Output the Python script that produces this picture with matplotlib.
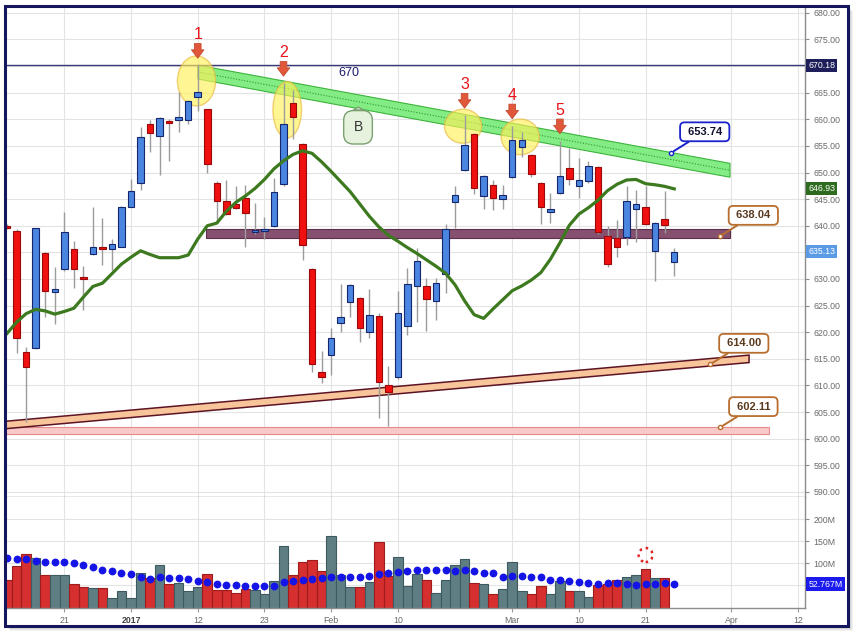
import numpy as np
import matplotlib
matplotlib.use("Agg")
import matplotlib.pyplot as plt
import matplotlib.transforms as mtransforms
from matplotlib.patches import Rectangle, Ellipse, Polygon, Circle

plt.rcParams['font.family'] = ['Liberation Sans', 'DejaVu Sans']

# trading day index (-1 = candle cut by the left edge)
days = np.arange(-1, 70)

opens = [640.0, 639.1, 616.3, 617.0, 634.9, 627.6, 631.8, 635.7, 630.4, 634.7,
         635.9, 635.6, 636.1, 643.6, 648.1, 659.1, 656.9, 659.7, 659.8, 659.9,
         664.2, 661.9, 648.1, 644.7, 644.1, 645.2, 638.9, 639.1, 640.0, 647.8,
         663.0, 655.3, 631.8, 612.6, 615.7, 621.7, 625.6, 626.4, 620.1, 623.1,
         610.1, 611.5, 621.1, 628.6, 628.7, 625.9, 630.9, 644.4, 650.5, 657.3,
         645.6, 647.6, 645.0, 649.1, 654.8, 653.3, 648.1, 642.6, 646.1, 650.8,
         647.5, 648.5, 651.1, 638.0, 637.7, 637.9, 643.2, 643.6, 635.3, 641.3,
         633.2]
highs = [640.4, 639.3, 617.2, 639.6, 635.0, 632.3, 642.5, 637.2, 632.5, 643.5,
         641.4, 637.5, 643.8, 648.8, 658.6, 659.9, 660.4, 660.1, 665.2, 663.6,
         670.18, 662.0, 648.5, 648.6, 647.4, 647.7, 644.2, 641.7, 648.9, 666.8,
         665.5, 655.5, 632.0, 616.5, 620.8, 629.1, 629.0, 626.6, 628.1, 623.7,
         613.7, 627.8, 632.0, 635.8, 630.1, 630.1, 640.4, 647.5, 660.8, 657.5,
         649.6, 648.6, 647.7, 658.8, 657.7, 653.5, 648.3, 646.1, 656.0, 654.6,
         652.7, 652.1, 651.3, 639.9, 641.1, 647.4, 646.7, 647.5, 640.8, 646.6,
         635.9]
lows = [639.4, 616.1, 603.2, 616.8, 622.8, 621.6, 631.5, 628.3, 624.2, 634.5,
        632.6, 631.6, 636.0, 643.5, 646.7, 653.9, 649.6, 652.1, 657.7, 659.1,
        661.5, 649.9, 640.8, 642.0, 643.2, 636.1, 638.5, 637.5, 639.8, 647.5,
        656.3, 633.6, 612.6, 610.4, 612.0, 620.1, 622.9, 618.2, 618.9, 603.8,
        602.3, 611.3, 619.5, 622.0, 620.3, 622.3, 627.3, 639.5, 650.3, 646.0,
        643.1, 643.0, 643.1, 649.0, 653.0, 649.2, 640.4, 640.5, 646.0, 647.7,
        645.2, 648.0, 638.5, 632.3, 634.2, 636.4, 637.0, 640.2, 629.7, 638.6,
        630.5]
closes = [639.6, 619.0, 613.5, 639.5, 627.8, 628.1, 638.9, 631.8, 630.0, 636.1,
          635.6, 636.5, 643.6, 646.6, 656.6, 657.5, 660.2, 659.3, 660.5, 663.4,
          665.1, 651.6, 644.7, 642.2, 643.4, 642.4, 639.1, 639.4, 646.4, 659.1,
          660.5, 636.4, 614.0, 611.5, 618.9, 622.9, 628.8, 620.8, 623.3, 610.6,
          608.7, 623.7, 629.1, 633.3, 626.2, 629.2, 639.4, 645.8, 655.2, 647.1,
          649.4, 645.3, 645.8, 656.1, 656.1, 649.7, 643.5, 643.1, 649.4, 648.8,
          648.6, 651.3, 638.8, 632.8, 636.1, 644.7, 644.1, 640.3, 640.6, 640.2,
          635.13]
ma20 = [619.8, 621.9, 623.5, 624.3, 624.0, 623.4, 623.9, 624.5, 626.6, 628.6,
        629.2, 631.0, 632.8, 634.1, 635.3, 634.6, 634.0, 634.0, 634.0, 634.5,
        637.5, 640.0, 640.5, 642.7, 644.4, 645.6, 647.0, 648.7, 650.7, 652.2,
        653.4, 654.1, 653.6, 652.0, 650.2, 648.3, 646.4, 644.1, 641.8, 639.8,
        638.2, 637.1, 635.9, 634.8, 633.6, 632.4, 631.1, 628.9, 625.9, 623.3,
        622.6, 624.4, 626.1, 627.8, 628.7, 629.8, 631.2, 633.7, 636.8, 640.1,
        642.2, 643.4, 644.8, 646.6, 647.8, 648.6, 648.7, 647.9, 647.7, 647.4,
        646.93]
# volume in millions
volume = [62.2, 94.6, 120.4, 112.7, 72.9, 72.9, 72.9, 52.5, 45.7, 43.4,
          43.4, 20.8, 36.7, 20.8, 78.7, 67.4, 96.2, 52.5, 54.8, 36.7,
          45.7, 75.1, 39.6, 39.6, 32.1, 41.2, 39.6, 29.9, 59.3, 138.5,
          72.9, 102.9, 107.5, 82.6, 161.8, 72.9, 45.7, 45.7, 57.0, 148.9,
          71.3, 114.9, 48.0, 75.1, 62.2, 32.1, 62.2, 96.2, 109.7, 54.8,
          52.5, 29.9, 41.2, 102.3, 36.7, 29.9, 49.3, 29.9, 59.3, 36.7,
          36.7, 23.1, 50.2, 52.5, 62.2, 68.3, 72.9, 87.1, 66.1, 66.1,
          np.nan]
vol_ma = [111.3, 109.0, 109.7, 105.9, 102.2, 102.2, 102.2, 100.0, 96.2, 90.9,
          85.5, 82.6, 78.7, 75.1, 69.7, 63.8, 68.3, 66.1, 66.1, 63.8,
          59.3, 57.0, 53.2, 51.6, 50.2, 49.3, 49.3, 49.3, 49.3, 57.0,
          59.3, 61.5, 63.8, 66.1, 69.7, 69.7, 68.3, 68.3, 71.3, 75.1,
          77.2, 80.3, 81.9, 84.2, 85.5, 85.5, 85.5, 82.6, 85.5, 82.6,
          79.1, 77.2, 69.0, 71.3, 70.5, 69.7, 69.0, 62.2, 62.2, 59.3,
          57.0, 54.8, 53.2, 54.8, 54.8, 52.5, 51.0, 52.5, 53.2, 54.8,
          52.767]

tick_idx = [5, 12, 19, 26, 33, 40, 52, 59, 66, 75, 82]
tick_lab = ['21', '2017', '12', '23', 'Feb', '10', 'Mar', '10', '21', 'Apr', '12']

# drawing tools on the chart
peaks = [19, 28, 47, 52, 57]
peak_lab = ['1', '2', '3', '4', '5']
res_x, res_top, res_w = [19, 74.85], [670.18, 651.72], 2.6
sup_x, sup_top, sup_w = [-1.5, 76.85], [603.22, 615.7], 1.4
zone_x, zone_y = [19.87, 74.85], [637.7, 639.35]
floor_x, floor_y = [-1.5, 78.9], [600.87, 602.27]
hline = 670.18
circ_x = [18.87, 28.39, 46.84, 52.84]
circ_y = [667.2, 661.8, 658.7, 656.7]
circ_w = [4.0, 3.0, 3.9, 4.0]
circ_h = [9.4, 10.6, 6.4, 6.7]
lvl_val = [653.74, 638.04, 614.00, 602.11]
lvl_idx = [68.7, 73.8, 72.8, 73.8]
lvl_col = ['#1a22cc', '#b86e2e', '#b86e2e', '#b86e2e']
lvl_txt = ['#101030', '#5a3a1e', '#5a3a1e', '#5a3a1e']

W, H = 862, 638
fig = plt.figure(figsize=(W / 100, H / 100), dpi=100)

# frame with soft shadow
for k in range(1, 6):
    fig.patches.append(Rectangle(((5.5 + k) / W, (H - 625.5 - k) / H), 843 / W, 620 / H,
                                 transform=fig.transFigure, fc='#000000', ec='none',
                                 alpha=0.05, zorder=-3))
fig.patches.append(Rectangle((5.5 / W, (H - 625.5) / H), 843 / W, 620 / H,
                             transform=fig.transFigure, fc='white', ec='none', zorder=-2))

ax = fig.add_axes([7 / W, (H - 496.7) / H, 798 / W, 489.7 / H])
axv = fig.add_axes([7 / W, (H - 608) / H, 798 / W, 111 / H])

xl = (-1.013, 82.72)
ax.set_xlim(*xl)
axv.set_xlim(*xl)
ax.set_ylim(589.1, 681.1)
axv.set_ylim(-1.1, 250)

for a in (ax, axv):
    a.set_xticks(tick_idx)
    a.grid(True, color='#e3e3e3', lw=0.8, zorder=0)
    a.set_axisbelow(True)
    for s in ('top', 'left'):
        a.spines[s].set_visible(False)
    for s in ('right', 'bottom'):
        a.spines[s].set_color('#8c8c8c')
        a.spines[s].set_linewidth(1)
    a.yaxis.tick_right()
    a.tick_params(axis='y', labelsize=6.3, labelcolor='#6a6a6a', color='#8c8c8c',
                  length=3, pad=3)

# flags on the price axis hide the 670 and 635 labels, as in the source chart
pticks = np.arange(590, 681, 5)
ax.set_yticks(pticks)
ax.set_yticklabels(['' if v in (670, 635) else '%.2f' % v for v in pticks])
ax.tick_params(axis='x', length=0, labelbottom=False)

axv.set_yticks([50, 100, 150, 200])
axv.set_yticklabels(['', '100M', '150M', '200M'])
axv.set_xticklabels(tick_lab)
axv.tick_params(axis='x', labelsize=6.3, labelcolor='#6a6a6a', color='#9a9a9a',
                length=3, pad=3)
for t in axv.get_xticklabels():
    if t.get_text() == '2017':
        t.set_fontweight('bold')
        t.set_color('#444444')

# bands and lines
ax.add_patch(Polygon([(floor_x[0], floor_y[0]), (floor_x[1], floor_y[0]),
                      (floor_x[1], floor_y[1]), (floor_x[0], floor_y[1])],
                     closed=True, fc='#f9c9c9', ec='#e88a8a', lw=0.8, zorder=1))
ax.add_patch(Polygon([(sup_x[0], sup_top[0]), (sup_x[1], sup_top[1]),
                      (sup_x[1], sup_top[1] - sup_w), (sup_x[0], sup_top[0] - sup_w)],
                     closed=True, fc='#f8c49a', ec='#5c1424', lw=1.1, zorder=1))
ax.add_patch(Polygon([(zone_x[0], zone_y[0]), (zone_x[1], zone_y[0]),
                      (zone_x[1], zone_y[1]), (zone_x[0], zone_y[1])],
                     closed=True, fc='#86506f', ec='#5e2e4e', lw=0.8, zorder=1))
ax.add_patch(Polygon([(res_x[0], res_top[0]), (res_x[1], res_top[1]),
                      (res_x[1], res_top[1] - res_w), (res_x[0], res_top[0] - res_w)],
                     closed=True, fc='#84ec84', ec='#3cb43c', lw=0.8, zorder=1))
ax.plot(res_x, [res_top[0] - res_w / 2, res_top[1] - res_w / 2], color='#2c9a2c',
        lw=0.8, ls=(0, (1, 1.5)), zorder=1.5)
ax.axhline(hline, color='#3a3a78', lw=1, zorder=1.5)
ax.text(34.9, 668.7, '670', color='#1c1c6c', fontsize=9, ha='center', va='center')

for cx, cy, cw, ch in zip(circ_x, circ_y, circ_w, circ_h):
    ax.add_patch(Ellipse((cx, cy), cw, ch, fc='#fff05a', ec='#e8b840', lw=1,
                         alpha=0.65, zorder=2))

# candles
ax.vlines(days, lows, highs, color='#9c9c9c', lw=1, zorder=3)
for d, o, c in zip(days, opens, closes):
    up = c >= o
    ax.add_patch(Rectangle((d - 0.34, min(o, c)), 0.68, max(abs(c - o), 0.35),
                           fc='#4a86df' if up else '#f01010',
                           ec='#16266e' if up else '#9a0808', lw=0.8, zorder=4))

ax.plot(days, ma20, color='#3d7a1f', lw=2.3, zorder=5, solid_joinstyle='round')

# peak markers
for p, lab in zip(peaks, peak_lab):
    hi = highs[p + 1]
    tr = mtransforms.offset_copy(ax.transData, fig=fig, x=0, y=5, units='points')
    ax.annotate('', xy=(p, hi), xycoords=tr, xytext=(0, 10.5), textcoords='offset points',
                arrowprops=dict(arrowstyle='simple,head_length=0.6,head_width=0.9,tail_width=0.48',
                                fc='#e0573a', ec='#c44a30', lw=0.6, shrinkA=0, shrinkB=0),
                zorder=8)
    ax.annotate(lab, xy=(p, hi), xycoords=tr, xytext=(0, 16.7), textcoords='offset points',
                ha='center', va='center', color='#e8141a', fontsize=11.5, zorder=8)

ax.annotate('B', xy=(35.85, 662.3), xytext=(35.82, 658.5), ha='center', va='center',
            fontsize=10, color='#333333',
            bbox=dict(boxstyle='round,pad=0.7', fc='#e6f2dd', ec='#7aa070', lw=1),
            arrowprops=dict(arrowstyle='wedge,tail_width=0.7', fc='#e6f2dd', ec='#7aa070',
                            lw=1, shrinkA=0, shrinkB=0), zorder=7)

for v, i, col, tc in zip(lvl_val, lvl_idx, lvl_col, lvl_txt):
    ax.plot(i, v, 'o', ms=3, mfc='white', mec=col, mew=1, zorder=7)
    ax.annotate(' %.2f ' % v, xy=(i, v), xytext=(24, 15), textcoords='offset points',
                ha='center', va='center', fontsize=8, fontweight='bold', color=tc,
                bbox=dict(boxstyle='round,pad=0.4', fc='white', ec=col, lw=1.3),
                arrowprops=dict(arrowstyle='-', color=col, lw=1.4, shrinkA=0, shrinkB=2),
                zorder=7)

# value flags on the price axis
flags = [(hline, '%.2f' % hline, '#1e1e5a'),
         (ma20[-1], '%.2f' % ma20[-1], '#2e6b1e'),
         (closes[-1], '%.2f' % closes[-1], '#5b9be6')]
for y, s, fc in flags:
    ax.text(1.004, y, s, transform=ax.get_yaxis_transform(), ha='left', va='center',
            fontsize=6.3, color='white', clip_on=False, zorder=10,
            bbox=dict(boxstyle='square,pad=0.22', fc=fc, ec='none'))

# volume
vcol = ['#5e7e84' if c >= o else '#d62f2f' for o, c in zip(opens, closes)]
vedge = ['#3c5a60' if c >= o else '#9e1c1c' for o, c in zip(opens, closes)]
axv.bar(days, volume, width=1.0, color=vcol, edgecolor=vedge, lw=0.8, zorder=2)
axv.plot(days, vol_ma, 'o', color='#1414e6', ms=4.6, zorder=5)
axv.text(1.004, vol_ma[-1], '%.3fM' % vol_ma[-1], transform=axv.get_yaxis_transform(),
         ha='left', va='center', fontsize=6.3, color='white', clip_on=False, zorder=10,
         bbox=dict(boxstyle='square,pad=0.3', fc='#1b1bf0', ec='none'))
ring = (fig.dpi_scale_trans +
        mtransforms.ScaledTranslation(66, volume[67], axv.transData))
axv.add_patch(Circle((0, 0.14), 0.07, transform=ring, fill=False, ec='#e02020',
                     lw=1.8, ls=(0, (1, 1.6)), clip_on=False, zorder=6))

fig.patches.append(Rectangle((5.5 / W, (H - 625.5) / H), 843 / W, 620 / H,
                             transform=fig.transFigure, fill=False, ec='#16165c',
                             lw=2.2, zorder=10))

fig.savefig('out.png', dpi=100)
